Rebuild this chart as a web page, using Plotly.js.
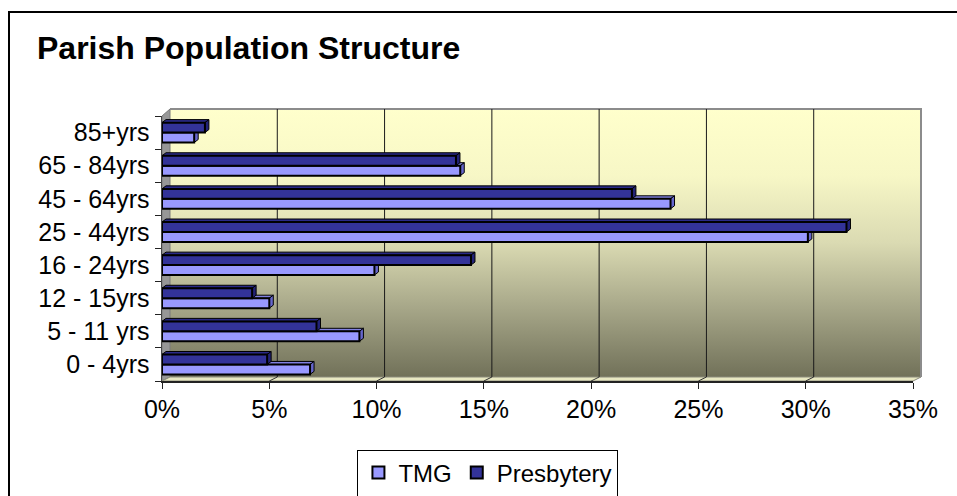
<!DOCTYPE html>
<html>
<head>
<meta charset="utf-8">
<script src="https://cdn.plot.ly/plotly-3.0.1.min.js"></script>
<style>
  html, body { margin: 0; padding: 0; background: #ffffff; }
  #chart { width: 957px; height: 496px; }
</style>
</head>
<body>
<div id="chart"></div>
<script>
// ---- data ----
const categories = ['0 - 4yrs', '5 - 11 yrs', '12 - 15yrs', '16 - 24yrs', '25 - 44yrs', '45 - 64yrs', '65 - 84yrs', '85+yrs'];
const tmgValues = [6.9, 9.2, 5.0, 9.9, 30.1, 23.7, 13.9, 1.5];
const presbyteryValues = [4.9, 7.2, 4.2, 14.4, 31.9, 21.9, 13.7, 2.0];
const xTickValues = [0, 5, 10, 15, 20, 25, 30, 35];
const xTickLabels = ['0%', '5%', '10%', '15%', '20%', '25%', '30%', '35%'];
const seriesNames = ['TMG', 'Presbytery'];

// ---- geometry / style ----
const W = 957, H = 496;
const M = { l: 162, r: 44, t: 116, b: 115, autoexpand: false };
const plotW = W - M.l - M.r, plotH = H - M.t - M.b;
const xRange = [0, 35];
const yRange = [-0.5, categories.length - 0.5];
const pxPerX = plotW / (xRange[1] - xRange[0]);
const pxPerY = plotH / (yRange[1] - yRange[0]);
const PX = x => (x - M.l) / plotW;          // pixel -> paper x
const PY = y => (H - M.b - y) / plotH;      // pixel -> paper y
const depthX = 8;                           // wall depth in px
const barDX = 4 / pxPerX, barDY = 3 / pxPerY; // bar depth in data units
const barHalf = 0.15;
const colors = { tmg: '#9999FF', pres: '#333399' };
const FONT = 'Liberation Sans, Arial, sans-serif';

const yIdx = categories.map((c, i) => i);

const traces = [
  { type: 'bar', orientation: 'h', name: seriesNames[0], x: tmgValues, y: yIdx,
    marker: { color: colors.tmg, line: { color: '#000000', width: 2 } }, hoverinfo: 'x+name' },
  { type: 'bar', orientation: 'h', name: seriesNames[1], x: presbyteryValues, y: yIdx,
    marker: { color: colors.pres, line: { color: '#000000', width: 2 } }, hoverinfo: 'x+name' },
  // invisible trace on y2 to carry category-boundary ticks
  { type: 'scatter', x: [0], y: [0], yaxis: 'y2', mode: 'markers', marker: { opacity: 0 },
    showlegend: false, hoverinfo: 'skip' }
];

const shapes = [];
// left wall
shapes.push({ type: 'path', xref: 'paper', yref: 'paper', layer: 'below',
  path: `M${PX(162)},${PY(116)} L${PX(170)},${PY(109)} L${PX(170)},${PY(377)} L${PX(162)},${PY(381)} Z`,
  fillcolor: '#979797', line: { color: '#7a7a7a', width: 1 } });
// floor
shapes.push({ type: 'path', xref: 'paper', yref: 'paper', layer: 'below',
  path: `M${PX(162)},${PY(381)} L${PX(170)},${PY(377)} L${PX(921)},${PY(377)} L${PX(913)},${PY(381)} Z`,
  fillcolor: '#E8E8C2', line: { color: '#8a8a7a', width: 1 } });
// back wall border (top + right)
shapes.push({ type: 'path', xref: 'paper', yref: 'paper', layer: 'below',
  path: `M${PX(170)},${PY(109)} L${PX(921)},${PY(109)} L${PX(921)},${PY(377)}`,
  line: { color: '#8c8c8c', width: 2 } });
// gridlines on back wall and floor
xTickValues.slice(1, -1).forEach(v => {
  shapes.push({ type: 'line', xref: 'x', yref: 'paper', layer: 'below',
    x0: v + depthX / pxPerX, x1: v + depthX / pxPerX, y0: PY(377), y1: PY(109),
    line: { color: '#1a1a1a', width: 1 } });
  shapes.push({ type: 'line', xref: 'x', yref: 'paper', layer: 'below',
    x0: v, x1: v + depthX / pxPerX, y0: PY(381), y1: PY(377),
    line: { color: '#333333', width: 1 } });
});
// 3D faces of bars
function addFaces(values, off, topColor, sideColor) {
  values.forEach((v, i) => {
    const c = i + off;
    const t = c + barHalf, b = c - barHalf;
    shapes.push({ type: 'path', xref: 'x', yref: 'y', layer: 'below',
      path: `M0,${t} L${v},${t} L${v + barDX},${t + barDY} L${barDX},${t + barDY} Z`,
      fillcolor: topColor, line: { color: '#000000', width: 1 } });
    shapes.push({ type: 'path', xref: 'x', yref: 'y', layer: 'below',
      path: `M${v},${b} L${v + barDX},${b + barDY} L${v + barDX},${t + barDY} L${v},${t} Z`,
      fillcolor: sideColor, line: { color: '#000000', width: 1 } });
  });
}
addFaces(tmgValues, -barHalf, '#8080E0', '#6666CC');
addFaces(presbyteryValues, barHalf, '#2a2a88', '#222277');
// outer frame (left and top edges)
shapes.push({ type: 'path', xref: 'paper', yref: 'paper', layer: 'above',
  path: `M${PX(9)},${PY(520)} L${PX(9)},${PY(12)} L${PX(980)},${PY(12)}`,
  line: { color: '#000000', width: 2 } });

// gradient back wall
const svg = `<svg xmlns='http://www.w3.org/2000/svg' width='200' height='200' preserveAspectRatio='none' viewBox='0 0 200 200'>` +
  `<defs><linearGradient id='g' x1='0' y1='0' x2='0' y2='1'>` +
  `<stop offset='0' stop-color='#FFFFCC'/><stop offset='0.25' stop-color='#F7F7C6'/>` +
  `<stop offset='0.5' stop-color='#DADAB2'/><stop offset='0.75' stop-color='#A5A587'/>` +
  `<stop offset='1' stop-color='#717159'/></linearGradient></defs>` +
  `<rect width='200' height='200' fill='url(#g)'/></svg>`;
const images = [{
  source: 'data:image/svg+xml;charset=utf-8,' + encodeURIComponent(svg),
  xref: 'paper', yref: 'paper', x: PX(170), y: PY(109),
  sizex: (921 - 170) / plotW, sizey: (377 - 109) / plotH,
  xanchor: 'left', yanchor: 'top', sizing: 'stretch', layer: 'below'
}];

const layout = {
  width: W, height: H,
  margin: M,
  paper_bgcolor: '#ffffff',
  plot_bgcolor: 'rgba(0,0,0,0)',
  font: { family: FONT, color: '#000000', size: 25 },
  title: { text: '<b>Parish Population Structure</b>', xref: 'container', yref: 'container',
    x: 37 / W, xanchor: 'left', y: 1 - 48 / H, yanchor: 'middle',
    font: { family: FONT, size: 32, color: '#000000' } },
  barmode: 'group', bargap: 0.4, bargroupgap: 0,
  xaxis: { range: xRange, tickvals: xTickValues, ticktext: xTickLabels, showgrid: false,
    zeroline: false, showline: true, linecolor: '#222222', linewidth: 1.5,
    ticks: 'outside', ticklen: 6, tickcolor: '#222222', ticklabelstandoff: -1,
    tickfont: { size: 25, family: FONT } },
  yaxis: { range: yRange, tickvals: yIdx, ticktext: categories, showgrid: false, zeroline: false,
    showline: true, linecolor: '#444444', linewidth: 1.5, ticks: '', ticklabelstandoff: 6,
    tickfont: { size: 25, family: FONT } },
  yaxis2: { range: yRange, overlaying: 'y', side: 'left', showgrid: false, zeroline: false,
    tickvals: categories.map((c, i) => i - 0.5).concat([categories.length - 0.5]),
    showticklabels: false, ticks: 'outside', ticklen: 6, tickcolor: '#222222' },
  legend: { orientation: 'h', x: 0.434, xanchor: 'center', y: PY(473), yanchor: 'middle',
    bgcolor: '#ffffff', bordercolor: '#000000', borderwidth: 1,
    font: { size: 24, family: FONT }, traceorder: 'normal' },
  shapes: shapes,
  images: images,
  showlegend: true
};

Plotly.newPlot('chart', traces, layout, { displayModeBar: false, staticPlot: true });
</script>
</body>
</html>
